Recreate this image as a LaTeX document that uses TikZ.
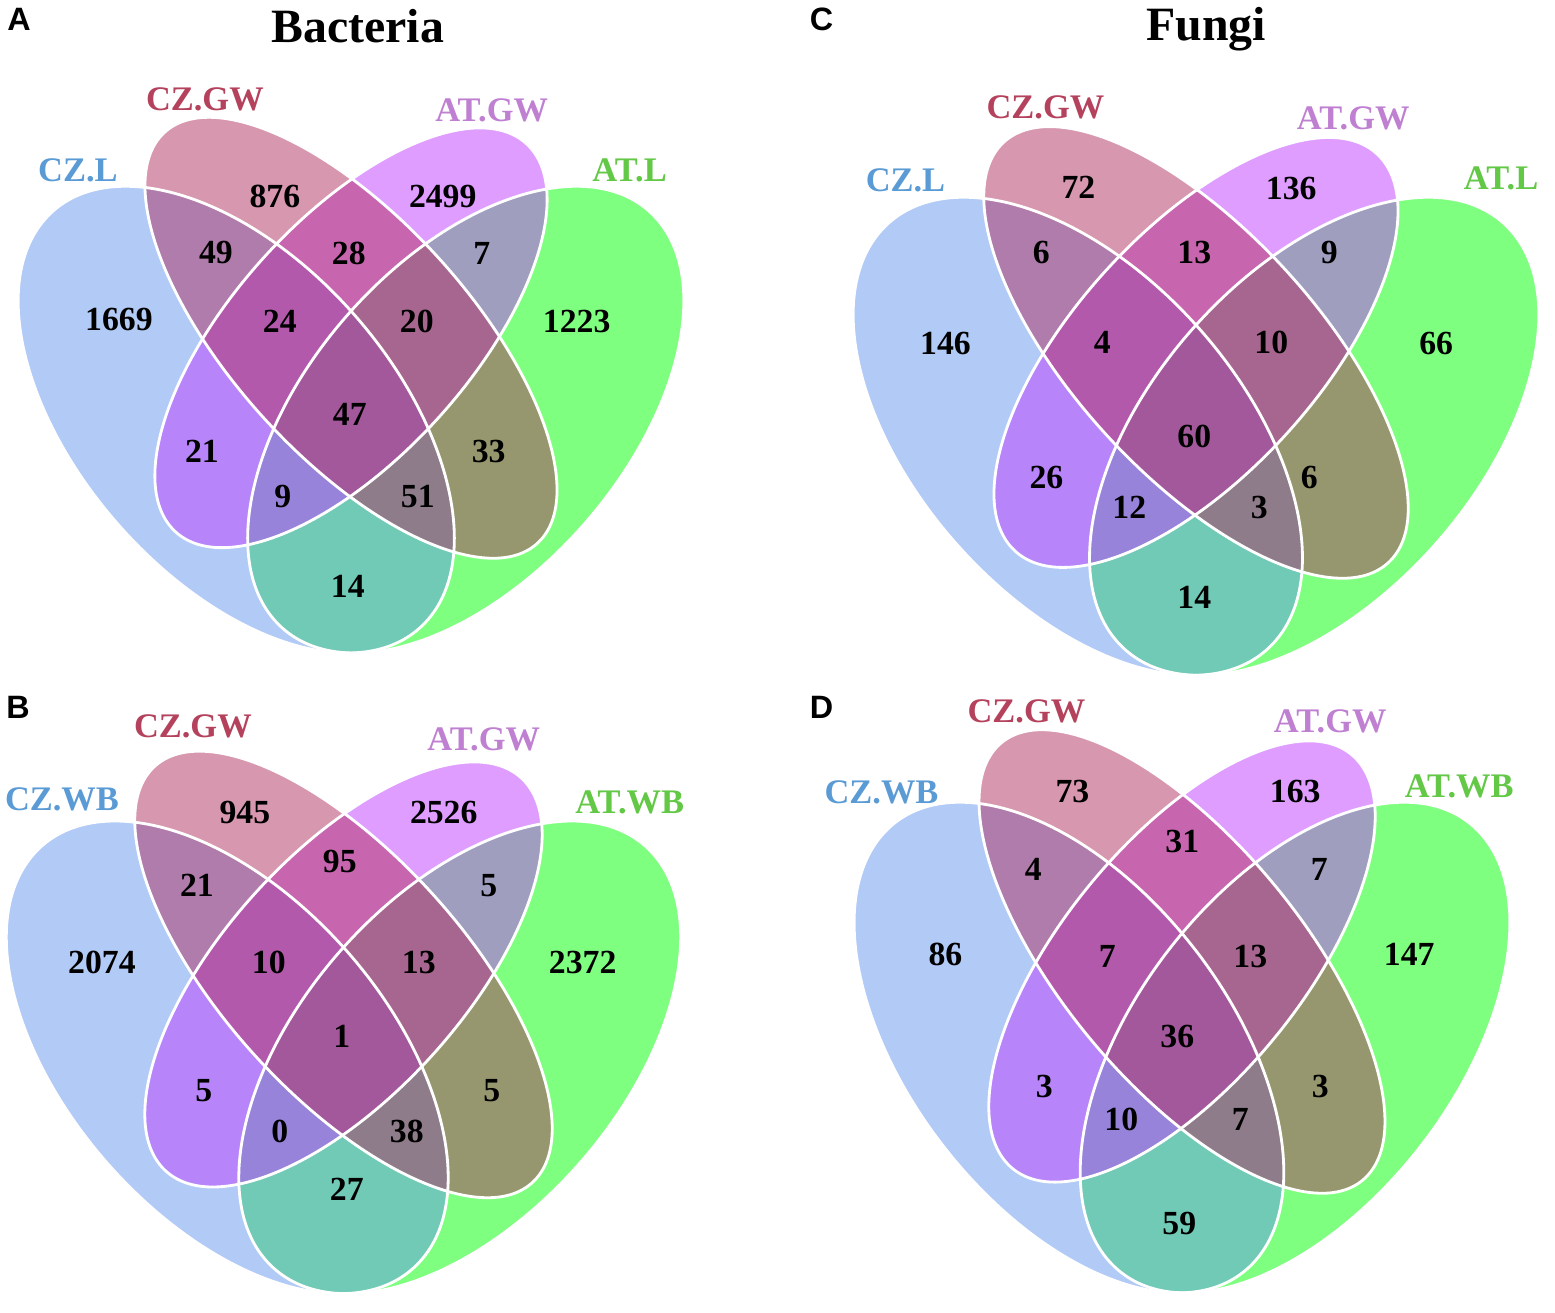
\documentclass[tikz,border=0pt]{standalone}
\usepackage{fontspec}
\setmainfont{Liberation Serif}
\setsansfont{Liberation Sans}
\usetikzlibrary{positioning}

\definecolor{czL}{RGB}{100,149,237}
\definecolor{atL}{RGB}{0,255,0}
\definecolor{atGW}{RGB}{191,62,255}
\definecolor{czGW}{RGB}{176,48,96}
\definecolor{czLtext}{RGB}{91,155,213}
\definecolor{czGWtext}{RGB}{181,66,92}
\definecolor{atGWtext}{RGB}{192,128,210}
\definecolor{atLtext}{RGB}{98,200,70}

\tikzset{
  setfill/.style={fill=#1, fill opacity=0.5},
  setline/.style={draw=white, line width=0.8pt},
  num/.style={inner sep=0pt, font=\bfseries\fontsize{9.6}{10}\selectfont},
  setname/.style={inner sep=0pt, text=#1, font=\bfseries\fontsize{9.8}{11}\selectfont},
  panel/.style={inner sep=0pt, anchor=base, font=\sffamily\bfseries\fontsize{9.2}{10}\selectfont},
  heading/.style={inner sep=0pt, anchor=base, font=\bfseries\fontsize{13.6}{16}\selectfont}
}

% the four sets of one panel, in unit coordinates
\newcommand\vennsets{%
  \fill[setfill=atL, rotate around={45:(0.65,0.47)}] (0.65,0.47) ellipse [x radius=0.35, y radius=0.20];
  \fill[setfill=czL, rotate around={135:(0.35,0.47)}] (0.35,0.47) ellipse [x radius=0.35, y radius=0.20];
  \fill[setfill=atGW, rotate around={45:(0.5,0.57)}] (0.5,0.57) ellipse [x radius=0.33, y radius=0.15];
  \fill[setfill=czGW, rotate around={135:(0.5,0.57)}] (0.5,0.57) ellipse [x radius=0.35, y radius=0.15];
  \draw[setline, rotate around={45:(0.65,0.47)}] (0.65,0.47) ellipse [x radius=0.35, y radius=0.20];
  \draw[setline, rotate around={135:(0.35,0.47)}] (0.35,0.47) ellipse [x radius=0.35, y radius=0.20];
  \draw[setline, rotate around={45:(0.5,0.57)}] (0.5,0.57) ellipse [x radius=0.33, y radius=0.15];
  \draw[setline, rotate around={135:(0.5,0.57)}] (0.5,0.57) ellipse [x radius=0.35, y radius=0.15];
}

\begin{document}
\begin{tikzpicture}
\useasboundingbox (0,0) rectangle (15.55,13.13);

% shapes
\begin{scope}[shift={(-0.315,5.086)}, xscale=7.65, yscale=8.186]
\vennsets
\end{scope}
\begin{scope}[shift={(-0.44,-1.34)}, xscale=7.75, yscale=8.29]
\vennsets
\end{scope}
\begin{scope}[shift={(8.02,4.826)}, xscale=7.88, yscale=8.385]
\vennsets
\end{scope}
\begin{scope}[shift={(8.052,-1.39)}, xscale=7.536, yscale=8.605]
\vennsets
\end{scope}

% texts, in pixels from the top left
\begin{scope}[yshift=13.13cm, x=0.01cm, y=-0.01cm]
% A
\node[panel] (A) at (19,31) {A};
\node[heading] (bacteria) at (358,43) {Bacteria};
\node[setname=czLtext] (A-czl) at (78,170) {CZ.L};
\node[setname=czGWtext] (A-czgw) at (205,99) {CZ.GW};
\node[setname=atGWtext] (A-atgw) at (492,110) {AT.GW};
\node[setname=atLtext] (A-atl) at (630,170) {AT.L};
\node[num] (A-1) at (119,320) {1669};
\node[num] (A-2) at (275,197) {876};
\node[num] (A-3) at (443,197) {2499};
\node[num] (A-4) at (577,322) {1223};
\node[num] (A-12) at (216,253) {49};
\node[num] (A-23) at (349,254) {28};
\node[num] (A-34) at (482,254) {7};
\node[num] (A-123) at (280,322) {24};
\node[num] (A-234) at (417,322) {20};
\node[num] (A-1234) at (350,415) {47};
\node[num] (A-13) at (202,452) {21};
\node[num] (A-24) at (489,452) {33};
\node[num] (A-134) at (283,497) {9};
\node[num] (A-124) at (418,497) {51};
\node[num] (A-14) at (348,587) {14};
% B
\node[panel] (B) at (18,719) {B};
\node[setname=czLtext] (B-czwb) at (62,800) {CZ.WB};
\node[setname=czGWtext] (B-czgw) at (193,727) {CZ.GW};
\node[setname=atGWtext] (B-atgw) at (484,740) {AT.GW};
\node[setname=atLtext] (B-atwb) at (630,803) {AT.WB};
\node[num] (B-1) at (102,963) {2074};
\node[num] (B-2) at (245,813) {945};
\node[num] (B-3) at (444,813) {2526};
\node[num] (B-4) at (583,963) {2372};
\node[num] (B-12) at (197,886) {21};
\node[num] (B-23) at (340,862) {95};
\node[num] (B-34) at (489,886) {5};
\node[num] (B-123) at (269,963) {10};
\node[num] (B-234) at (419,963) {13};
\node[num] (B-1234) at (342,1037) {1};
\node[num] (B-13) at (204,1091) {5};
\node[num] (B-24) at (492,1091) {5};
\node[num] (B-134) at (280,1132) {0};
\node[num] (B-124) at (407,1132) {38};
\node[num] (B-14) at (347,1190) {27};
% C
\node[panel] (C) at (822,31) {C};
\node[heading] (fungi) at (1207,41) {Fungi};
\node[setname=czLtext] (C-czl) at (906,180) {CZ.L};
\node[setname=czGWtext] (C-czgw) at (1046,107) {CZ.GW};
\node[setname=atGWtext] (C-atgw) at (1354,118) {AT.GW};
\node[setname=atLtext] (C-atl) at (1502,178) {AT.L};
\node[num] (C-1) at (946,344) {146};
\node[num] (C-2) at (1079,187) {72};
\node[num] (C-3) at (1292,189) {136};
\node[num] (C-4) at (1437,344) {66};
\node[num] (C-12) at (1042,253) {6};
\node[num] (C-23) at (1195,253) {13};
\node[num] (C-34) at (1330,253) {9};
\node[num] (C-123) at (1103,343) {4};
\node[num] (C-234) at (1272,343) {10};
\node[num] (C-1234) at (1195,437) {60};
\node[num] (C-13) at (1047,478) {26};
\node[num] (C-24) at (1310,478) {6};
\node[num] (C-134) at (1130,508) {12};
\node[num] (C-124) at (1260,508) {3};
\node[num] (C-14) at (1195,598) {14};
% D
\node[panel] (D) at (822,719) {D};
\node[setname=czLtext] (D-czwb) at (882,793) {CZ.WB};
\node[setname=czGWtext] (D-czgw) at (1027,712) {CZ.GW};
\node[setname=atGWtext] (D-atgw) at (1331,722) {AT.GW};
\node[setname=atLtext] (D-atwb) at (1460,787) {AT.WB};
\node[num] (D-1) at (946,955) {86};
\node[num] (D-2) at (1073,792) {73};
\node[num] (D-3) at (1296,792) {163};
\node[num] (D-4) at (1410,955) {147};
\node[num] (D-12) at (1034,870) {4};
\node[num] (D-23) at (1183,842) {31};
\node[num] (D-34) at (1320,870) {7};
\node[num] (D-123) at (1108,957) {7};
\node[num] (D-234) at (1251,957) {13};
\node[num] (D-1234) at (1178,1037) {36};
\node[num] (D-13) at (1045,1087) {3};
\node[num] (D-24) at (1321,1087) {3};
\node[num] (D-134) at (1122,1120) {10};
\node[num] (D-124) at (1241,1120) {7};
\node[num] (D-14) at (1180,1224) {59};
\end{scope}
\end{tikzpicture}
\end{document}
